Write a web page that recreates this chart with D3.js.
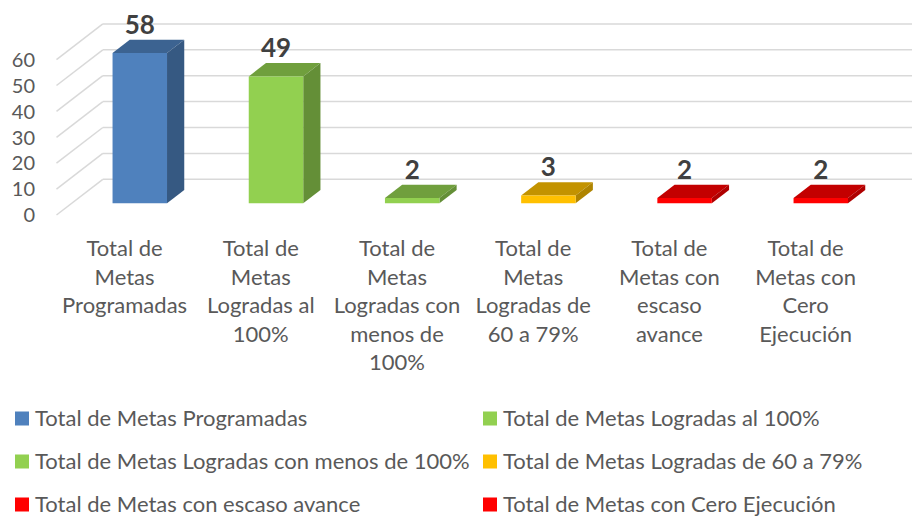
<!DOCTYPE html>
<html lang="es">
<head>
    <meta charset="UTF-8">
    <title>Metas</title>
    <style>
        body { margin: 0; background: #fff; }
        text { font-family: Lato, "Open Sans", sans-serif; }
    </style>
</head>
<body>
<svg id="chart" width="912" height="518"></svg>
<script src="https://d3js.org/d3.v7.min.js"></script>
<script>
    // data
    var categories = ["Total de Metas Programadas",
                      "Total de Metas Logradas al 100%",
                      "Total de Metas Logradas con menos de 100%",
                      "Total de Metas Logradas de 60 a 79%",
                      "Total de Metas con escaso avance",
                      "Total de Metas con Cero Ejecución"]
    var values = [58, 49, 2, 3, 2, 2]
    var categoryLines = [["Total de", "Metas", "Programadas"],
                         ["Total de", "Metas", "Logradas al", "100%"],
                         ["Total de", "Metas", "Logradas con", "menos de", "100%"],
                         ["Total de", "Metas", "Logradas de", "60 a 79%"],
                         ["Total de", "Metas con", "escaso", "avance"],
                         ["Total de", "Metas con", "Cero", "Ejecución"]]
    var yTicks = [0, 10, 20, 30, 40, 50, 60]
    var colors = ["#4f81bd", "#92d050", "#92d050", "#ffc000", "#ff0000", "#ff0000"]

    var svg = d3.select("#chart")

    //scales, front plane of the floor
    var x = d3.scaleBand()
              .domain(categories)
              .range([56.5, 873.7])
              .paddingInner(0.6)
              .paddingOuter(0.3)
    var y = d3.scaleLinear()
              .domain([0, 60])
              .range([215, 59.6])

    //depth of the 3d box
    var depthX = 46.3, depthY = 35.7
    var zFront = 0.328, zBack = 0.70
    function proj(px, v, z) {
        return [px + z * depthX, y(v) - z * depthY]
    }

    //walls: left side lines and back gridlines
    var grid = svg.append("g")
    yTicks.forEach(function(t) {
        var a = proj(56.5, t, 0), b = proj(56.5, t, 1)
        grid.append("line")
            .attr("x1", a[0]).attr("y1", a[1])
            .attr("x2", b[0]).attr("y2", b[1])
            .style("stroke", "#d9d9d9").style("stroke-width", 1.5)
        grid.append("line")
            .attr("x1", b[0]).attr("y1", b[1])
            .attr("x2", 912).attr("y2", b[1])
            .style("stroke", "#d9d9d9").style("stroke-width", 1.5)
    })

    //y tick labels
    svg.append("g").selectAll("text")
       .data(yTicks)
       .enter().append("text")
       .attr("x", 35)
       .attr("y", function(d) { return y(d) })
       .attr("dy", "0.36em")
       .attr("text-anchor", "end")
       .attr("font-size", "20px")
       .style("fill", "#595959")
       .text(function(d) { return d })

    //bars: front, top and side faces
    var bars = svg.append("g").selectAll("g")
                  .data(values)
                  .enter().append("g")

    function face(pts) { return "M" + pts.map(function(p) { return p.join(",") }).join("L") + "Z" }

    bars.each(function(v, i) {
        var g = d3.select(this)
        var x0 = x(categories[i]), x1 = x0 + x.bandwidth()
        var c = d3.color(colors[i])
        //top
        g.append("path")
         .attr("d", face([proj(x0, v, zFront), proj(x0, v, zBack), proj(x1, v, zBack), proj(x1, v, zFront)]))
         .style("fill", c.darker(0.75))
        //side
        g.append("path")
         .attr("d", face([proj(x1, v, zFront), proj(x1, v, zBack), proj(x1, 0, zBack), proj(x1, 0, zFront)]))
         .style("fill", c.darker(1.05))
        //front
        g.append("path")
         .attr("d", face([proj(x0, v, zFront), proj(x1, v, zFront), proj(x1, 0, zFront), proj(x0, 0, zFront)]))
         .style("fill", c)
    })

    //value labels
    bars.append("text")
        .attr("x", function(v, i) { return proj(x(categories[i]) + x.bandwidth() / 2, v, zFront)[0] })
        .attr("y", function(v) { return proj(0, v, zBack)[1] - 6 })
        .attr("text-anchor", "middle")
        .attr("font-size", "26px")
        .attr("font-weight", "bold")
        .style("fill", "#404040")
        .text(function(v) { return v })

    //category labels
    var cats = svg.append("g").selectAll("text")
                  .data(categories)
                  .enter().append("text")
                  .attr("text-anchor", "middle")
                  .attr("font-size", "22px")
                  .style("fill", "#595959")
    cats.each(function(d, i) {
        var t = d3.select(this)
        categoryLines[i].forEach(function(line, k) {
            t.append("tspan")
             .attr("x", x(d) + x.bandwidth() / 2)
             .attr("y", 256 + k * 28.5)
             .text(line)
        })
    })

    //legend, two columns
    var legend = svg.append("g").selectAll("g")
                    .data(categories)
                    .enter().append("g")
                    .attr("transform", function(d, i) {
                        return "translate(" + (i % 2 == 0 ? 15 : 483) + "," + (426 + Math.floor(i / 2) * 43) + ")"
                    })
    legend.append("rect")
          .attr("x", 0).attr("y", -14.5)
          .attr("width", 14).attr("height", 14)
          .style("fill", function(d, i) { return colors[i] })
    legend.append("text")
          .attr("x", 20)
          .attr("y", 0)
          .attr("font-size", "22px")
          .style("fill", "#595959")
          .text(function(d) { return d })
</script>
</body>
</html>
